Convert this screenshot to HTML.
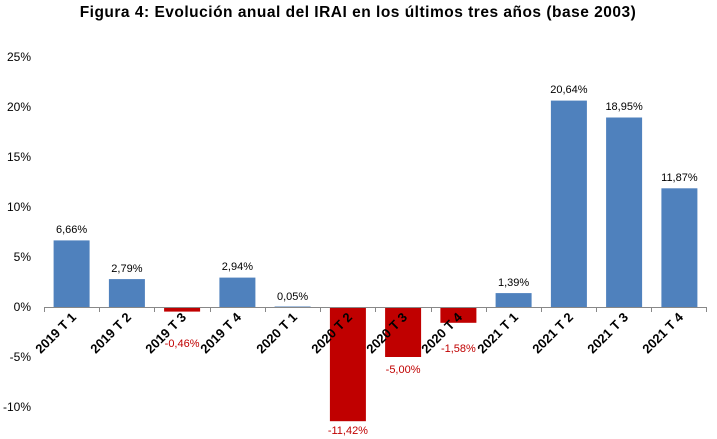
<!DOCTYPE html>
<html><head><meta charset="utf-8"><style>body{margin:0;background:#fff}svg{display:block}</style></head>
<body>
<svg width="717" height="439" xmlns="http://www.w3.org/2000/svg" font-family="'Liberation Sans', sans-serif">
<text x="358" y="17" text-anchor="middle" font-size="15.5" font-weight="bold" letter-spacing="0.5">Figura 4: Evolución anual del IRAI en los últimos tres años (base 2003)</text>
<g font-size="12" text-anchor="end" fill="#000">
<text x="31" y="61">25%</text>
<text x="31" y="111">20%</text>
<text x="31" y="161">15%</text>
<text x="31" y="211">10%</text>
<text x="31" y="261">5%</text>
<text x="31" y="311">0%</text>
<text x="31" y="361">-5%</text>
<text x="31" y="411">-10%</text>
</g>
<g fill="#4f81bd">
<rect x="53.6" y="240.4" width="36" height="66.6"/>
<rect x="108.9" y="279.1" width="36" height="27.9"/>
<rect x="219.4" y="277.6" width="36" height="29.4"/>
<rect x="274.6" y="306.5" width="36" height="0.5"/>
<rect x="495.6" y="293.1" width="36" height="13.9"/>
<rect x="550.9" y="100.6" width="36" height="206.4"/>
<rect x="606.1" y="117.5" width="36" height="189.5"/>
<rect x="661.4" y="188.3" width="36" height="118.7"/>
</g>
<g fill="#c00000">
<rect x="164.1" y="307" width="36" height="4.6"/>
<rect x="329.9" y="307" width="36" height="114.2"/>
<rect x="385.1" y="307" width="36" height="50"/>
<rect x="440.4" y="307" width="36" height="15.8"/>
</g>
<g stroke="#888" stroke-width="1">
<line x1="44" y1="307.5" x2="707" y2="307.5"/>
<line x1="44.5" y1="307" x2="44.5" y2="312"/><line x1="99.5" y1="307" x2="99.5" y2="312"/><line x1="154.5" y1="307" x2="154.5" y2="312"/><line x1="210.5" y1="307" x2="210.5" y2="312"/><line x1="265.5" y1="307" x2="265.5" y2="312"/><line x1="320.5" y1="307" x2="320.5" y2="312"/><line x1="375.5" y1="307" x2="375.5" y2="312"/><line x1="431.5" y1="307" x2="431.5" y2="312"/><line x1="486.5" y1="307" x2="486.5" y2="312"/><line x1="541.5" y1="307" x2="541.5" y2="312"/><line x1="596.5" y1="307" x2="596.5" y2="312"/><line x1="651.5" y1="307" x2="651.5" y2="312"/><line x1="706.5" y1="307" x2="706.5" y2="312"/>
</g>
<g font-size="11" text-anchor="middle" fill="#000">
<text x="71.6" y="233">6,66%</text>
<text x="126.9" y="272">2,79%</text>
<text x="237.4" y="270">2,94%</text>
<text x="292.6" y="300">0,05%</text>
<text x="513.6" y="286">1,39%</text>
<text x="568.9" y="93">20,64%</text>
<text x="624.1" y="110">18,95%</text>
<text x="679.4" y="181">11,87%</text>
</g>
<g font-size="11" text-anchor="middle" fill="#c00000">
<text x="182.1" y="347">-0,46%</text>
<text x="347.9" y="434">-11,42%</text>
<text x="403.1" y="373">-5,00%</text>
<text x="458.4" y="352">-1,58%</text>
</g>
<g font-size="13" font-weight="bold" text-anchor="end" fill="#000">
<text transform="translate(77,318) rotate(-45)">2019 T 1</text>
<text transform="translate(132,318) rotate(-45)">2019 T 2</text>
<text transform="translate(187,318) rotate(-45)">2019 T 3</text>
<text transform="translate(242,318) rotate(-45)">2019 T 4</text>
<text transform="translate(298,318) rotate(-45)">2020 T 1</text>
<text transform="translate(353,318) rotate(-45)">2020 T 2</text>
<text transform="translate(408,318) rotate(-45)">2020 T 3</text>
<text transform="translate(463,318) rotate(-45)">2020 T 4</text>
<text transform="translate(519,318) rotate(-45)">2021 T 1</text>
<text transform="translate(574,318) rotate(-45)">2021 T 2</text>
<text transform="translate(629,318) rotate(-45)">2021 T 3</text>
<text transform="translate(684,318) rotate(-45)">2021 T 4</text>
</g>
</svg>
</body></html>
